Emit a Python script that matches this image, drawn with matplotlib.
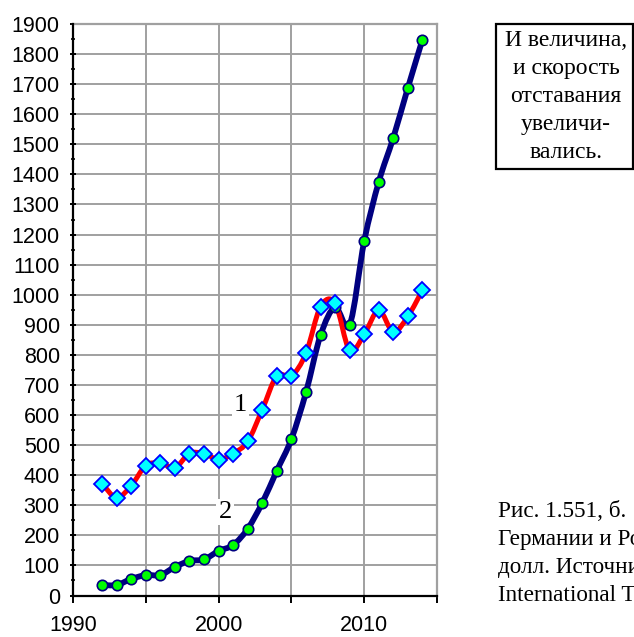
import numpy as np
import matplotlib.pyplot as plt
from matplotlib.path import Path
from matplotlib.patches import PathPatch, Rectangle
from matplotlib.ticker import MultipleLocator, FuncFormatter

years = list(range(1992, 2015))
# 1 - red line, cyan diamonds
series_1 = [372, 325, 365, 432, 440, 425, 472, 472, 452, 472, 512,
            618, 730, 730, 805, 960, 972, 815, 868, 948, 876, 928, 1015]
# 2 - navy line, green dots
series_2 = [35, 35, 55, 68, 68, 95, 115, 120, 148, 168, 222,
            308, 415, 520, 675, 865, 958, 900, 1178, 1375, 1522, 1688, 1848]

note_lines = ["И величина,", "и скорость", "отставания", "увеличи-", "вались."]
caption_lines = ["Рис. 1.551, б. ", "Германии и Ро", "долл. Источни", "International T"]

serif = "Liberation Serif"
sans = "Liberation Sans"


def smooth_path(x, y):
    # bezier curve through the points, like a smoothed spreadsheet line
    x = np.asarray(x, float)
    y = np.asarray(y, float)
    n = len(x)
    verts = [(x[0], y[0])]
    codes = [Path.MOVETO]
    for i in range(n - 1):
        x0, y0 = (x[i - 1], y[i - 1]) if i > 0 else (x[i], y[i])
        x3, y3 = (x[i + 2], y[i + 2]) if i + 2 < n else (x[i + 1], y[i + 1])
        c1 = (x[i] + (x[i + 1] - x0) / 6, y[i] + (y[i + 1] - y0) / 6)
        c2 = (x[i + 1] - (x3 - x[i]) / 6, y[i + 1] - (y3 - y[i]) / 6)
        verts += [c1, c2, (x[i + 1], y[i + 1])]
        codes += [Path.CURVE4] * 3
    return Path(verts, codes)


fig = plt.figure(figsize=(6.34, 6.37), dpi=100)
ax = fig.add_axes([73 / 634, 1 - 595.5 / 637, 364 / 634, 571.5 / 637])

ax.set_xlim(1990, 2015)
ax.set_ylim(0, 1900)

grid_col = "#a0a0a0"
ax.xaxis.set_major_locator(MultipleLocator(5))
ax.yaxis.set_major_locator(MultipleLocator(100))
ax.yaxis.set_minor_locator(MultipleLocator(50))
ax.xaxis.set_major_formatter(FuncFormatter(lambda v, p: f"{int(v)}" if int(v) % 10 == 0 else ""))
ax.grid(True, which="major", color=grid_col, lw=1.4)
ax.set_axisbelow(True)

for s in ["top", "right"]:
    ax.spines[s].set_color(grid_col)
    ax.spines[s].set_linewidth(1.6)
for s in ["left", "bottom"]:
    ax.spines[s].set_color("black")
    ax.spines[s].set_linewidth(1.6)
    ax.spines[s].set_zorder(5)

ax.tick_params(axis="y", which="major", direction="inout", length=5, width=1.4,
               labelsize=15.5, pad=7)
ax.tick_params(axis="y", which="minor", direction="inout", length=3, width=1.2)
ax.tick_params(axis="x", which="major", direction="out", length=5, width=1.4,
               labelsize=15.5, pad=9)
for lab in ax.get_xticklabels() + ax.get_yticklabels():
    lab.set_fontfamily(sans)

ax.add_patch(PathPatch(smooth_path(years, series_2), fill=False, color="#000080",
                       lw=4.2, capstyle="round", joinstyle="round", zorder=3))
ax.plot(years, series_2, ls="none", marker="o", ms=7.5, mfc="#00ff00", mec="#000080",
        mew=1.2, zorder=4)

ax.add_patch(PathPatch(smooth_path(years, series_1), fill=False, color="#ff0000",
                       lw=3.6, capstyle="round", joinstyle="round", zorder=3))
ax.plot(years, series_1, ls="none", marker="D", ms=8, mfc="#00ffff", mec="#0000ff",
        mew=1.3, zorder=4)

ax.text(2001.5, 632, "1", family=serif, fontsize=19, ha="center", va="center",
        bbox=dict(fc="white", ec="none", pad=1.5), zorder=2)
ax.text(2000.45, 277, "2", family=serif, fontsize=19, ha="center", va="center",
        bbox=dict(fc="white", ec="none", pad=1.5), zorder=2)

# note box at the top right
fig.patches.append(Rectangle((495.5 / 634, 1 - 169 / 637), 137.5 / 634, 145 / 637,
                             transform=fig.transFigure, fill=False, ec="black", lw=1.6))
for i, line in enumerate(note_lines):
    fig.text(566 / 634, 1 - (40 + 28.2 * i) / 637, line, family=serif, fontsize=17,
             ha="center", va="center")

# caption, cut by the right edge
for i, line in enumerate(caption_lines):
    fig.text(498 / 634, 1 - (511.5 + 28 * i) / 637, line, family=serif, fontsize=16.7,
             ha="left", va="center")

fig.savefig("out.png", dpi=100)
